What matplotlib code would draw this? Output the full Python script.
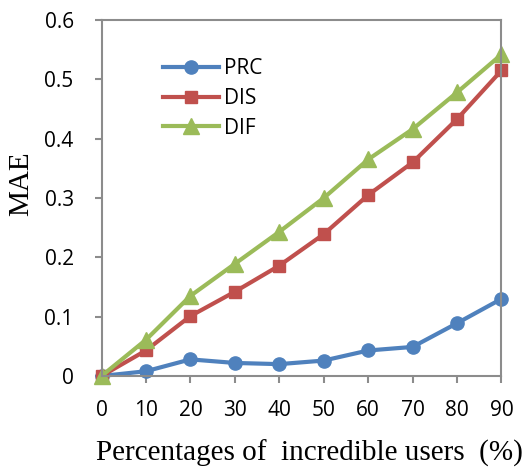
import matplotlib
matplotlib.use('Agg')
import matplotlib.pyplot as plt

# 数据
x_pct = [0, 10, 20, 30, 40, 50, 60, 70, 80, 90]
prc = [0.0, 0.008, 0.028, 0.022, 0.020, 0.026, 0.043, 0.049, 0.089, 0.130]
dis = [0.0, 0.043, 0.101, 0.142, 0.186, 0.239, 0.305, 0.360, 0.433, 0.515]
dif = [0.0, 0.061, 0.135, 0.189, 0.243, 0.300, 0.365, 0.416, 0.478, 0.542]
y_ticks = [0, 0.1, 0.2, 0.3, 0.4, 0.5, 0.6]
y_tick_labels = ['0', '0.1', '0.2', '0.3', '0.4', '0.5', '0.6']

fig = plt.figure(figsize=(5.26, 4.69), dpi=100)
ax = fig.add_axes([101.5 / 526, 1 - 376 / 469, 400 / 526, 356 / 469])

ax.plot(x_pct, prc, color='#4F81BD', lw=3, marker='o', ms=9.5, label='PRC', clip_on=False)
ax.plot(x_pct, dis, color='#C0504D', lw=3, marker='s', ms=8.5, label='DIS', clip_on=False)
ax.plot(x_pct, dif, color='#9BBB59', lw=3, marker='^', ms=11, label='DIF', clip_on=False)

ax.set_xlim(0, 90)
ax.set_ylim(0, 0.6)
ax.set_xticks(x_pct)
ax.set_xticklabels([str(v) for v in x_pct])
ax.set_yticks(y_ticks)
ax.set_yticklabels(y_tick_labels)

for sp in ax.spines.values():
    sp.set_color('#8C8C8C')
    sp.set_linewidth(1.5)
ax.tick_params(colors='#8C8C8C', width=1.5, length=5, direction='out',
               labelcolor='black', labelsize=15)
ax.tick_params(axis='x', pad=12)
ax.tick_params(axis='y', pad=15)
for lab in ax.get_xticklabels() + ax.get_yticklabels():
    lab.set_family('Open Sans')

ax.set_xlabel('Percentages of  incredible users  (%)', family='Liberation Serif',
              fontsize=21, va='top')
ax.xaxis.set_label_coords(0.521, -0.178)
ax.set_ylabel('MAE', family='Liberation Serif', fontsize=21, va='center')
ax.yaxis.set_label_coords(-0.201, 0.54)

leg = ax.legend(loc='upper left', bbox_to_anchor=(0.154, 0.893), frameon=False,
                prop={'family': 'Open Sans', 'size': 15}, handlelength=2.7,
                handletextpad=0.2, labelspacing=0.42, borderpad=0,
                borderaxespad=0)

fig.savefig('out.png', dpi=100)
